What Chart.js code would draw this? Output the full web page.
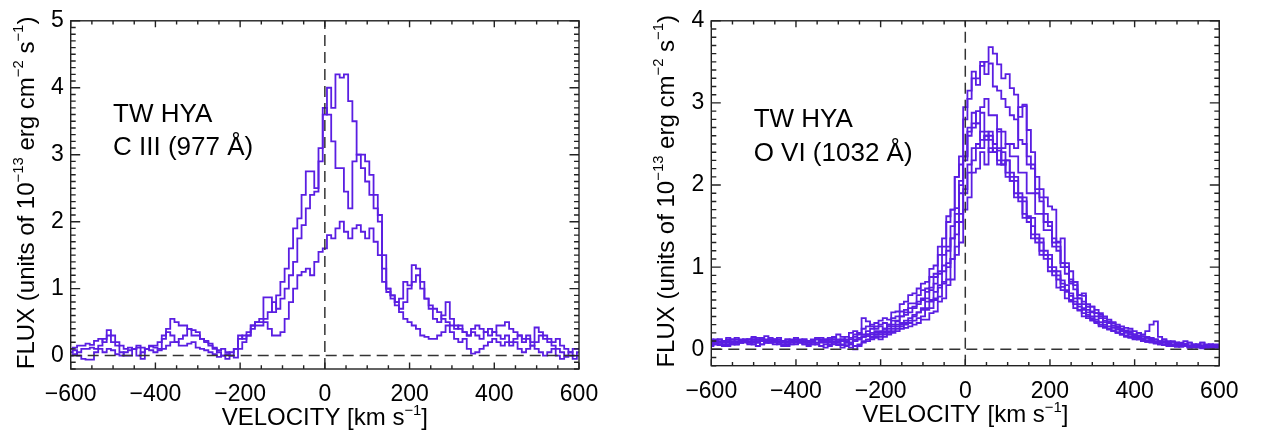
<!DOCTYPE html>
<html>
<head>
<title>TW Hya C III and O VI line profiles</title>
<style>
  body { margin: 0; background: #fff; }
  .panel { position: absolute; top: 0; height: 433px; }
  #left { left: 0; width: 640px; }
  #right { left: 640px; width: 626px; }
</style>
<script src="https://cdn.jsdelivr.net/npm/chart.js"></script>
</head>
<body>
<div class="panel" id="left"><canvas id="c3Chart"></canvas></div>
<div class="panel" id="right"><canvas id="o6Chart"></canvas></div>
<script>
// velocity bin centres, km/s
const velocity = [
  -600,-590,-580,-570,-560,-550,-540,-530,-520,-510,
  -500,-490,-480,-470,-460,-450,-440,-430,-420,-410,
  -400,-390,-380,-370,-360,-350,-340,-330,-320,-310,
  -300,-290,-280,-270,-260,-250,-240,-230,-220,-210,
  -200,-190,-180,-170,-160,-150,-140,-130,-120,-110,
  -100,-90,-80,-70,-60,-50,-40,-30,-20,-10,
  0,10,20,30,40,50,60,70,80,90,
  100,110,120,130,140,150,160,170,180,190,
  200,210,220,230,240,250,260,270,280,290,
  300,310,320,330,340,350,360,370,380,390,
  400,410,420,430,440,450,460,470,480,490,
  500,510,520,530,540,550,560,570,580,590,
  600
];

const xTicks = [-600, -400, -200, 0, 200, 400, 600];
const yTicksC3 = [0, 1, 2, 3, 4, 5];
const yTicksO6 = [0, 1, 2, 3, 4];

// C III 977 A, flux in 1e-13 erg cm-2 s-1
const c3Spec1 = [
  0.10,0.12,0.15,0.15,0.18,0.16,0.22,0.25,0.20,0.38,
  0.30,0.20,0.15,0.10,0.12,0.10,0.15,0.12,0.10,0.14,
  0.12,0.10,0.25,0.40,0.55,0.50,0.45,0.45,0.40,0.38,
  0.35,0.25,0.22,0.18,0.12,0.08,0.10,0.05,0.00,0.10,
  0.25,0.30,0.35,0.45,0.50,0.55,0.87,0.87,0.65,0.90,
  1.10,1.30,1.60,1.90,2.05,2.40,2.75,2.75,2.50,3.10,
  3.60,4.00,3.70,4.20,4.15,4.20,3.80,3.50,3.00,2.80,
  2.60,2.40,2.20,2.10,1.30,1.00,0.90,0.80,0.85,1.10,
  1.05,1.35,1.30,1.10,0.85,0.70,0.55,0.50,0.60,0.80,
  0.55,0.45,0.40,0.35,0.30,0.40,0.45,0.40,0.35,0.30,
  0.35,0.45,0.45,0.50,0.40,0.35,0.30,0.25,0.30,0.20,
  0.42,0.35,0.30,0.25,0.20,0.25,0.15,0.10,0.05,0.10,
  0.10
];
const c3Spec2 = [
  0.05,0.08,0.00,-0.05,-0.06,-0.06,0.05,0.15,0.25,0.30,
  0.20,0.15,0.05,0.00,0.00,0.10,0.12,-0.05,0.10,0.15,
  0.15,0.20,0.30,0.35,0.30,0.20,0.25,0.30,0.40,0.30,
  0.30,0.25,0.20,0.15,0.10,0.05,0.00,-0.05,0.05,0.10,
  0.30,0.25,0.30,0.45,0.50,0.50,0.55,0.65,0.80,0.70,
  0.85,1.00,1.20,1.40,1.75,1.95,2.20,2.40,2.45,2.90,
  3.70,3.60,3.20,2.80,2.80,2.45,2.20,2.90,3.00,3.00,
  2.90,2.70,2.40,2.00,1.10,0.95,0.85,0.75,0.70,0.80,
  1.00,1.10,1.20,1.00,0.85,0.75,0.70,0.65,0.55,0.50,
  0.45,0.40,0.45,0.35,0.30,0.35,0.30,0.25,0.35,0.40,
  0.35,0.30,0.25,0.30,0.20,0.25,0.30,0.20,0.25,0.15,
  0.20,0.30,0.25,0.20,0.15,0.10,0.05,0.00,0.00,-0.05,
  0.05
];
const c3Spec3 = [
  0.00,0.02,0.05,0.10,0.10,0.12,0.10,0.10,0.05,0.10,
  0.08,0.02,0.00,0.05,0.08,0.10,0.00,0.05,0.10,0.08,
  0.05,0.08,0.10,0.15,0.20,0.20,0.15,0.15,0.18,0.20,
  0.12,0.10,0.08,0.05,0.02,-0.02,0.00,0.02,0.00,-0.03,
  0.10,0.20,0.30,0.40,0.45,0.45,0.50,0.40,0.30,0.30,
  0.35,0.55,0.80,1.00,1.20,1.25,1.30,1.20,1.40,1.55,
  1.60,1.80,1.75,1.90,2.00,1.85,1.75,1.90,1.95,1.85,
  1.75,1.90,1.70,1.50,1.50,1.00,0.90,0.80,0.65,0.55,
  0.50,0.45,0.40,0.30,0.28,0.25,0.25,0.30,0.35,0.45,
  0.35,0.25,0.20,0.25,0.10,0.03,0.05,0.10,0.15,0.20,
  0.25,0.20,0.15,0.20,0.15,0.20,0.10,0.05,0.10,0.15,
  0.10,0.05,0.00,0.05,0.10,0.00,-0.05,-0.02,0.05,0.00,
  0.00
];

// O VI 1032 A
const o6Spec1 = [
  0.10,0.08,0.12,0.10,0.06,0.10,0.12,0.08,0.10,0.12,
  0.14,0.10,0.12,0.16,0.12,0.10,0.08,0.10,0.12,0.10,
  0.08,0.10,0.12,0.10,0.08,0.12,0.14,0.10,0.12,0.15,
  0.18,0.15,0.12,0.20,0.22,0.18,0.25,0.28,0.30,0.32,
  0.35,0.38,0.36,0.45,0.46,0.55,0.58,0.66,0.68,0.74,
  0.80,0.82,0.98,1.02,1.25,1.35,1.62,1.70,2.10,2.25,
  2.80,3.05,3.30,3.22,3.45,3.50,3.68,3.60,3.47,3.30,
  3.35,3.18,3.10,2.83,2.98,2.67,2.40,2.10,1.95,1.85,
  1.74,1.70,1.31,1.35,0.92,0.95,0.73,0.62,0.55,0.52,
  0.45,0.44,0.38,0.38,0.32,0.32,0.26,0.25,0.22,0.22,
  0.18,0.20,0.16,0.15,0.14,0.12,0.10,0.12,0.08,0.10,
  0.08,0.06,0.10,0.08,0.06,0.05,0.08,0.06,0.05,0.06,
  0.06
];
const o6Spec2 = [
  0.05,0.08,0.06,0.10,0.12,0.08,0.06,0.10,0.12,0.08,
  0.10,0.12,0.14,0.10,0.08,0.12,0.10,0.06,0.08,0.10,
  0.12,0.10,0.08,0.06,0.10,0.12,0.08,0.10,0.14,0.12,
  0.10,0.12,0.15,0.14,0.18,0.20,0.18,0.22,0.25,0.28,
  0.30,0.32,0.30,0.38,0.40,0.46,0.48,0.56,0.56,0.66,
  0.72,0.74,0.88,0.92,1.15,1.25,1.55,1.70,2.10,2.35,
  2.95,3.15,3.38,3.30,3.50,3.35,3.48,3.20,3.15,3.05,
  2.95,2.85,2.80,2.55,2.50,2.25,2.20,1.90,1.80,1.55,
  1.50,1.30,1.25,1.05,1.00,0.82,0.78,0.62,0.58,0.48,
  0.46,0.40,0.40,0.33,0.32,0.27,0.26,0.22,0.21,0.18,
  0.16,0.15,0.13,0.14,0.12,0.10,0.08,0.10,0.07,0.06,
  0.08,0.05,0.07,0.04,0.06,0.05,0.03,0.05,0.06,0.04,
  0.05
];
const o6Spec3 = [
  0.12,0.10,0.08,0.10,0.14,0.12,0.10,0.08,0.10,0.12,
  0.15,0.12,0.10,0.08,0.10,0.12,0.14,0.10,0.08,0.06,
  0.06,0.08,0.10,0.08,0.06,0.08,0.10,0.12,0.10,0.08,
  0.06,0.05,0.10,0.12,0.15,0.20,0.38,0.34,0.28,0.25,
  0.28,0.25,0.30,0.35,0.34,0.40,0.45,0.50,0.52,0.58,
  0.60,0.70,0.72,0.88,0.92,1.15,1.20,1.50,1.65,2.05,
  2.30,2.65,2.75,2.90,2.95,3.05,2.85,2.85,2.65,2.65,
  2.50,2.50,2.45,2.95,2.96,2.35,2.25,1.95,1.85,1.65,
  1.55,1.35,1.30,1.05,1.05,0.85,0.82,0.66,0.65,0.52,
  0.52,0.44,0.42,0.35,0.34,0.29,0.28,0.24,0.23,0.20,
  0.18,0.17,0.15,0.14,0.13,0.12,0.10,0.08,0.07,0.09,
  0.07,0.08,0.06,0.05,0.04,0.06,0.08,0.05,0.03,0.04,
  0.05
];
const o6Spec4 = [
  0.08,0.06,0.05,0.08,0.10,0.08,0.06,0.08,0.10,0.12,
  0.10,0.08,0.06,0.08,0.12,0.10,0.08,0.10,0.12,0.10,
  0.10,0.08,0.06,0.04,0.06,0.08,0.10,0.12,0.10,0.08,
  0.05,0.02,0.05,0.08,0.10,0.12,0.15,0.18,0.20,0.22,
  0.22,0.25,0.28,0.30,0.35,0.40,0.42,0.45,0.50,0.55,
  0.62,0.62,0.75,0.80,0.95,1.02,1.25,1.35,1.72,1.90,
  2.35,2.60,2.88,2.75,2.88,2.65,2.60,2.40,2.45,2.25,
  2.30,2.05,2.05,1.80,1.80,1.55,1.50,1.30,1.30,1.10,
  1.10,0.90,0.90,0.72,0.72,0.58,0.58,0.47,0.48,0.38,
  0.36,0.33,0.30,0.28,0.25,0.22,0.20,0.18,0.16,0.15,
  0.14,0.12,0.10,0.11,0.09,0.08,0.07,0.06,0.05,0.06,
  0.05,0.04,0.06,0.03,0.02,0.04,0.05,0.03,0.02,0.03,
  0.04
];
const o6Spec5 = [
  0.04,0.06,0.08,0.06,0.04,0.06,0.08,0.10,0.08,0.06,
  0.08,0.10,0.12,0.10,0.08,0.06,0.08,0.06,0.04,0.06,
  0.08,0.10,0.12,0.10,0.08,0.06,0.04,0.02,0.04,0.06,
  0.08,0.10,0.08,0.06,0.10,0.12,0.15,0.16,0.18,0.20,
  0.18,0.20,0.22,0.25,0.28,0.30,0.32,0.35,0.40,0.45,
  0.48,0.58,0.58,0.70,0.75,0.95,1.00,1.35,1.55,2.00,
  2.35,2.70,2.70,2.75,2.55,2.60,2.55,2.50,2.30,2.30,
  2.10,2.05,1.85,1.85,1.60,1.60,1.35,1.35,1.15,1.15,
  0.95,0.95,0.75,0.76,0.62,0.60,0.50,0.48,0.40,0.40,
  0.35,0.32,0.28,0.26,0.24,0.22,0.20,0.18,0.15,0.14,
  0.12,0.13,0.10,0.09,0.10,0.08,0.06,0.05,0.06,0.04,
  0.03,0.05,0.04,0.02,0.04,0.03,0.01,0.03,0.04,0.02,
  0.03
];
const o6Spec6 = [
  0.10,0.12,0.10,0.08,0.10,0.12,0.14,0.12,0.10,0.08,
  0.06,0.08,0.10,0.12,0.14,0.12,0.10,0.08,0.10,0.12,
  0.14,0.12,0.10,0.08,0.10,0.12,0.10,0.08,0.06,0.08,
  0.10,0.12,0.10,0.08,0.12,0.14,0.16,0.18,0.15,0.18,
  0.20,0.22,0.25,0.28,0.30,0.32,0.35,0.38,0.42,0.45,
  0.50,0.50,0.60,0.62,0.78,0.82,1.05,1.10,1.40,1.55,
  1.95,2.15,2.45,2.45,2.65,2.55,2.65,2.50,2.68,2.45,
  2.50,2.35,2.35,2.15,2.15,1.90,1.90,1.65,1.65,1.45,
  1.45,1.25,1.20,1.00,1.00,0.80,0.82,0.66,0.68,0.55,
  0.52,0.48,0.44,0.40,0.36,0.33,0.30,0.28,0.26,0.25,
  0.22,0.20,0.18,0.22,0.30,0.34,0.15,0.12,0.10,0.09,
  0.08,0.07,0.06,0.08,0.05,0.06,0.04,0.05,0.06,0.04,
  0.05
];
const o6Spec7 = [
  0.06,0.08,0.06,0.04,0.06,0.08,0.06,0.08,0.10,0.08,
  0.06,0.04,0.06,0.08,0.10,0.08,0.06,0.04,0.06,0.08,
  0.10,0.08,0.06,0.08,0.10,0.06,0.04,0.06,0.08,0.10,
  0.08,0.06,0.04,0.02,0.04,0.06,0.10,0.12,0.14,0.16,
  0.15,0.18,0.20,0.22,0.25,0.28,0.30,0.32,0.35,0.38,
  0.40,0.48,0.50,0.60,0.64,0.80,0.85,1.10,1.25,1.65,
  1.90,2.25,2.30,2.50,2.45,2.60,2.40,2.45,2.25,2.40,
  2.15,2.15,1.90,1.90,1.65,1.62,1.40,1.40,1.20,1.20,
  1.00,1.00,0.85,0.84,0.70,0.68,0.55,0.55,0.44,0.45,
  0.38,0.34,0.30,0.28,0.25,0.23,0.21,0.19,0.17,0.15,
  0.14,0.12,0.10,0.09,0.08,0.07,0.06,0.05,0.04,0.05,
  0.04,0.03,0.05,0.02,0.03,0.04,0.02,0.01,0.03,0.02,
  0.02
];
const o6Spec8 = [
  0.08,0.10,0.12,0.10,0.08,0.06,0.08,0.10,0.12,0.10,
  0.12,0.14,0.12,0.10,0.08,0.10,0.12,0.10,0.08,0.10,
  0.12,0.10,0.08,0.10,0.12,0.14,0.12,0.10,0.12,0.14,
  0.12,0.10,0.08,0.06,0.00,0.04,0.08,0.10,0.12,0.14,
  0.12,0.15,0.18,0.20,0.22,0.25,0.26,0.28,0.30,0.32,
  0.36,0.36,0.44,0.46,0.58,0.62,0.78,0.85,1.15,1.30,
  1.70,1.85,2.15,2.20,2.40,2.25,2.45,2.40,2.42,2.25,
  2.30,2.10,2.10,1.85,1.85,1.60,1.60,1.35,1.35,1.15,
  1.15,0.95,0.95,0.80,0.78,0.65,0.62,0.52,0.50,0.42,
  0.40,0.36,0.33,0.30,0.28,0.26,0.24,0.22,0.20,0.18,
  0.16,0.14,0.12,0.10,0.11,0.09,0.08,0.06,0.07,0.05,
  0.06,0.04,0.05,0.03,0.04,0.02,0.03,0.01,0.02,0.03,
  0.02
];

const LINE = '#5a1ee2';
const FONT = '"Liberation Sans", Arial, Helvetica, sans-serif';

// text with raised exponents, centred on (cx, baseline y)
function drawRich(ctx, parts, cx, y, size) {
  let w = 0;
  for (const p of parts) {
    ctx.font = (p.sup ? size * 0.62 : size) + 'px ' + FONT;
    w += ctx.measureText(p.t).width;
  }
  let x = cx - w / 2;
  ctx.textAlign = 'left';
  ctx.textBaseline = 'alphabetic';
  for (const p of parts) {
    ctx.font = (p.sup ? size * 0.62 : size) + 'px ' + FONT;
    ctx.fillText(p.t, x, y - (p.sup ? size * 0.42 : 0));
    x += ctx.measureText(p.t).width;
  }
}

const yTitle = [
  {t: 'FLUX (units of 10'}, {t: '\u221213', sup: true}, {t: ' erg cm'},
  {t: '\u22122', sup: true}, {t: ' s'}, {t: '\u22121', sup: true}, {t: ')'}
];
const xTitle = [{t: 'VELOCITY [km s'}, {t: '\u22121', sup: true}, {t: ']'}];

// box with inward major/minor ticks on all sides, axis titles, labels
const idlFrame = {
  id: 'idlFrame',
  afterDatasetsDraw(chart, args, opts) {
    const {ctx, chartArea: a, scales: {x, y}} = chart;
    ctx.save();
    ctx.strokeStyle = '#222';
    ctx.lineWidth = 1.4;
    ctx.strokeRect(a.left, a.top, a.right - a.left, a.bottom - a.top);
    ctx.beginPath();
    for (let k = -12; k <= 12; k++) {
      const px = x.getPixelForValue(k * 50);
      const len = k % 4 === 0 ? 6.5 : 3.8;
      ctx.moveTo(px, a.bottom); ctx.lineTo(px, a.bottom - len);
      ctx.moveTo(px, a.top); ctx.lineTo(px, a.top + len);
    }
    for (let k = -2; k <= Math.round(y.max * 10); k++) {
      const py = y.getPixelForValue(k / 10);
      const len = k % 10 === 0 ? 9.5 : 5;
      ctx.moveTo(a.left, py); ctx.lineTo(a.left + len, py);
      ctx.moveTo(a.right, py); ctx.lineTo(a.right - len, py);
    }
    ctx.stroke();

    ctx.fillStyle = '#000';
    drawRich(ctx, xTitle, (a.left + a.right) / 2, a.bottom + 56, 24);
    ctx.save();
    ctx.translate(33.5, (a.top + a.bottom) / 2 - 2);
    ctx.rotate(-Math.PI / 2);
    drawRich(ctx, yTitle, 0, 0, 24);
    ctx.restore();

    ctx.font = '26px ' + FONT;
    ctx.textAlign = 'left';
    ctx.textBaseline = 'alphabetic';
    opts.notes.forEach(n => {
      ctx.fillText(n.text, x.getPixelForValue(n.x), y.getPixelForValue(n.y));
    });
    ctx.restore();
  }
};

function makeChart(id, series, yMax, yTicks, box, notes) {
  const datasets = series.map(s => ({
    data: velocity.map((v, i) => ({x: v, y: s[i]})),
    borderColor: LINE,
    borderWidth: 1.8,
    stepped: 'middle',
    pointRadius: 0,
    fill: false
  }));
  const dash = {borderColor: '#333', borderWidth: 1.5, borderDash: [11, 6], pointRadius: 0, order: -1};
  datasets.push(Object.assign({data: [{x: -600, y: 0}, {x: 600, y: 0}]}, dash));
  datasets.push(Object.assign({data: [{x: 0, y: -0.2}, {x: 0, y: yMax}]}, dash));

  return new Chart(document.getElementById(id), {
    type: 'line',
    data: {datasets},
    plugins: [idlFrame],
    options: {
      responsive: true,
      maintainAspectRatio: false,
      animation: false,
      events: [],
      layout: {padding: {top: box.top, right: box.right, left: 0, bottom: 0}},
      plugins: {legend: {display: false}, tooltip: {enabled: false}, idlFrame: {notes}},
      scales: {
        x: {
          type: 'linear', min: -600, max: 600,
          grid: {display: false, drawTicks: false},
          border: {display: false},
          afterBuildTicks: s => { s.ticks = xTicks.map(v => ({value: v})); },
          afterFit: s => { s.height = box.xh; },
          ticks: {
            autoSkip: false, maxRotation: 0, padding: 12, color: '#000',
            font: {family: FONT, size: 23},
            callback: v => String(v).replace('-', '\u2212')
          }
        },
        y: {
          type: 'linear', min: -0.2, max: yMax,
          grid: {display: false, drawTicks: false},
          border: {display: false},
          afterBuildTicks: s => { s.ticks = yTicks.map(v => ({value: v})); },
          afterFit: s => { s.width = box.yw; },
          ticks: {
            padding: 7, color: '#000',
            font: {family: FONT, size: 23}
          }
        }
      }
    }
  });
}

makeChart('c3Chart', [c3Spec1, c3Spec2, c3Spec3], 5, yTicksC3,
  {top: 8.5, right: 61, yw: 70.7, xh: 64},
  [{text: 'TW HYA', x: -500, y: 3.49}, {text: 'C III (977 \u00c5)', x: -500, y: 2.99}]);

makeChart('o6Chart', [o6Spec1, o6Spec2, o6Spec3, o6Spec4, o6Spec5, o6Spec6, o6Spec7, o6Spec8], 4, yTicksO6,
  {top: 6, right: 46.7, yw: 71.3, xh: 67.3},
  [{text: 'TW HYA', x: -500, y: 2.71}, {text: 'O VI (1032 \u00c5)', x: -500, y: 2.29}]);
</script>
</body>
</html>
